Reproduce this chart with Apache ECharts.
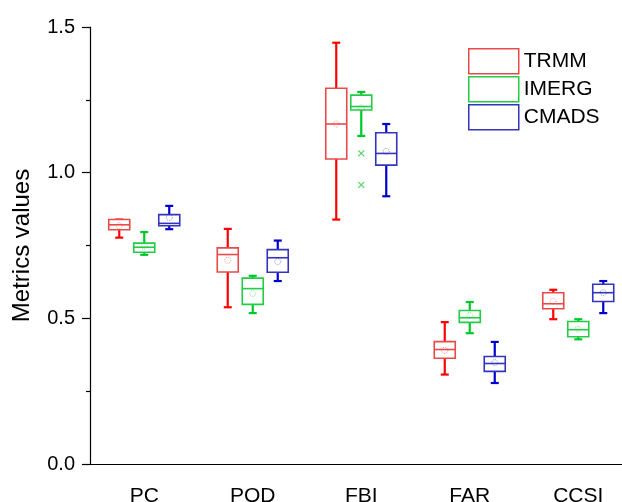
<!DOCTYPE html>
<html>
<head>
  <meta http-equiv="Content-Type" content="text/html; charset=utf-8"/>
  <title>Metrics boxplot</title>
  <script src="https://cdn.jsdelivr.net/npm/echarts@6/dist/echarts.min.js"></script>
</head>
<body style="margin:0">
<div id="chart" style="width:622px;height:502px;"></div>
<script type="text/javascript">
var categories = ['PC', 'POD', 'FBI', 'FAR', 'CCSI'];
// each row: [min, q1, median, q3, max]
var trmmBox = [
  [0.777, 0.804, 0.821, 0.839, 0.839],
  [0.538, 0.659, 0.719, 0.742, 0.807],
  [0.839, 1.047, 1.167, 1.290, 1.446],
  [0.307, 0.363, 0.393, 0.420, 0.487],
  [0.497, 0.533, 0.550, 0.588, 0.598]
];
var imergBox = [
  [0.718, 0.727, 0.744, 0.758, 0.796],
  [0.518, 0.548, 0.602, 0.638, 0.646],
  [1.126, 1.215, 1.227, 1.266, 1.277],
  [0.449, 0.486, 0.502, 0.527, 0.556],
  [0.428, 0.437, 0.461, 0.489, 0.497]
];
var cmadsBox = [
  [0.806, 0.818, 0.826, 0.856, 0.886],
  [0.628, 0.658, 0.708, 0.736, 0.767],
  [0.919, 1.026, 1.066, 1.137, 1.167],
  [0.278, 0.318, 0.345, 0.369, 0.419],
  [0.518, 0.558, 0.588, 0.617, 0.628]
];
var trmmMean = [0.818, 0.699, 1.167, 0.390, 0.559];
var imergMean = [0.748, 0.585, 1.222, 0.510, 0.463];
var cmadsMean = [0.846, 0.695, 1.073, 0.348, 0.588];
// outliers of IMERG: [category index, value]
var imergOutliers = [[2, 1.066], [2, 0.958]];

var font = "'Liberation Sans', Arial, sans-serif";

function toData(box, mean) {
  var out = [];
  for (var i = 0; i < box.length; i++) {
    out.push([i].concat(box[i]).concat([mean[i]]));
  }
  return out;
}

function makeRender(offset, lineColor, boxColor) {
  return function (params, api) {
    var i = api.value(0);
    var x = api.coord([i, 0])[0] + offset;
    function py(v) { return api.coord([i, v])[1]; }
    var yMin = py(api.value(1)), yQ1 = py(api.value(2)), yMed = py(api.value(3));
    var yQ3 = py(api.value(4)), yMax = py(api.value(5)), yMean = py(api.value(6));
    var hw = 10.5, cw = 4;
    var ls = {stroke: lineColor, lineWidth: 2.2};
    return {
      type: 'group',
      children: [
        {type: 'line', shape: {x1: x, y1: yQ3, x2: x, y2: yMax}, style: ls},
        {type: 'line', shape: {x1: x, y1: yQ1, x2: x, y2: yMin}, style: ls},
        {type: 'line', shape: {x1: x - cw, y1: yMax, x2: x + cw, y2: yMax}, style: ls},
        {type: 'line', shape: {x1: x - cw, y1: yMin, x2: x + cw, y2: yMin}, style: ls},
        {type: 'rect', shape: {x: x - hw, y: yQ3, width: hw * 2, height: yQ1 - yQ3},
          style: {fill: '#fff', stroke: boxColor, lineWidth: 1.6}},
        {type: 'line', shape: {x1: x - hw, y1: yMed, x2: x + hw, y2: yMed},
          style: {stroke: boxColor, lineWidth: 1.6}},
        {type: 'circle', shape: {cx: x, cy: yMean, r: 3},
          style: {fill: 'none', stroke: boxColor, lineWidth: 0.8, lineDash: [1, 1], opacity: 0.7}}
      ]
    };
  };
}

var chart = echarts.init(document.getElementById('chart'));
var option = {
  animation: false,
  backgroundColor: '#fff',
  grid: {left: 90, top: 27, bottom: 38, right: -10.5, outerBoundsMode: 'none', containLabel: false},
  legend: {
    orient: 'vertical',
    left: 468,
    top: 48,
    padding: 0,
    itemWidth: 50,
    itemHeight: 25,
    itemGap: 1.5,
    textStyle: {fontSize: 21, lineHeight: 24, fontFamily: font, color: '#000'},
    data: [
      {name: 'TRMM', icon: 'rect', itemStyle: {color: '#fff', borderColor: '#e84a4a', borderWidth: 1.5}},
      {name: 'IMERG', icon: 'rect', itemStyle: {color: '#fff', borderColor: '#22cc44', borderWidth: 1.5}},
      {name: 'CMADS', icon: 'rect', itemStyle: {color: '#fff', borderColor: '#3333bb', borderWidth: 1.5}}
    ]
  },
  xAxis: {
    type: 'category',
    data: categories,
    axisLine: {lineStyle: {color: '#000', width: 1.2}},
    axisTick: {alignWithLabel: true, length: 7, lineStyle: {color: '#000', width: 1.2}},
    axisLabel: {fontSize: 21, fontFamily: font, color: '#000', margin: 22}
  },
  yAxis: {
    type: 'value',
    min: 0,
    max: 1.5,
    interval: 0.5,
    name: 'Metrics values',
    nameLocation: 'middle',
    nameGap: 56,
    nameTextStyle: {fontSize: 24, fontFamily: font, color: '#000'},
    axisLine: {show: true, lineStyle: {color: '#000', width: 1.2}},
    axisTick: {show: true, length: 8, lineStyle: {color: '#000', width: 1.2}},
    minorTick: {show: true, splitNumber: 2, length: 4, lineStyle: {color: '#000', width: 1.2}},
    splitLine: {show: false},
    axisLabel: {fontSize: 20, fontFamily: font, color: '#000', margin: 15,
      formatter: function (v) { return v.toFixed(1); }}
  },
  series: [
    {
      name: 'TRMM', type: 'custom', itemStyle: {color: '#e84a4a'},
      renderItem: makeRender(-25, '#ff0000', '#e84a4a'),
      encode: {x: 0, y: [1, 2, 3, 4, 5]},
      data: toData(trmmBox, trmmMean)
    },
    {
      name: 'IMERG', type: 'custom', itemStyle: {color: '#22cc44'},
      renderItem: makeRender(0, '#00c82a', '#22cc44'),
      encode: {x: 0, y: [1, 2, 3, 4, 5]},
      data: toData(imergBox, imergMean)
    },
    {
      name: 'CMADS', type: 'custom', itemStyle: {color: '#3333bb'},
      renderItem: makeRender(25, '#0000cc', '#3333bb'),
      encode: {x: 0, y: [1, 2, 3, 4, 5]},
      data: toData(cmadsBox, cmadsMean)
    },
    {
      name: 'IMERG', type: 'scatter',
      symbol: 'path://M0,0L10,10M10,0L0,10',
      symbolSize: 6,
      itemStyle: {color: 'none', borderColor: '#22cc44', borderWidth: 1.2},
      data: imergOutliers
    }
  ]
};
chart.setOption(option);
</script>
</body>
</html>
